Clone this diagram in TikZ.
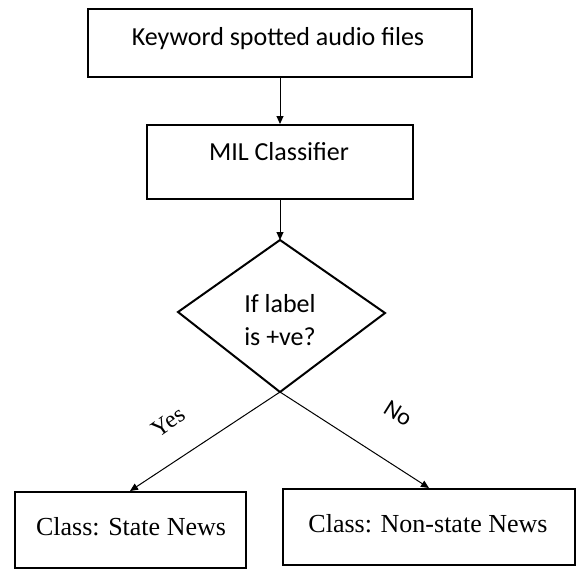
\documentclass[tikz,border=0pt]{standalone}
\usepackage{fontspec}
\setmainfont{Carlito}
\newfontfamily\serifface{Liberation Serif}
\usetikzlibrary{arrows.meta}
\begin{document}
\begin{tikzpicture}[x=1pt,y=-1pt,
  box/.style={draw=black, line width=2pt, inner sep=0pt},
  txt/.style={inner sep=0pt, font=\fontsize{26}{33}\selectfont, align=center},
  stxt/.style={inner sep=0pt, font=\serifface\fontsize{26}{33}\selectfont},
  arr/.style={draw=black, line width=1pt, -{Triangle[width=7pt,length=8pt]}}]
\useasboundingbox (0,0) rectangle (576,568);
% boxes
\node[box, minimum width=384pt, minimum height=68pt] (b1) at (280,43) {};
\node[txt] (t1) at (278,39) {Keyword spotted audio files};
\node[box, minimum width=266pt, minimum height=74pt] (b2) at (280,162) {};
\node[txt] (t2) at (279,152) {MIL Classifier};
% diamond
\coordinate (dt) at (280,240);
\coordinate (dr) at (385,313);
\coordinate (db) at (280,392);
\coordinate (dl) at (178,312);
\draw[line width=2pt, line join=miter] (dt) -- (dr) -- (db) -- (dl) -- cycle;
\node[txt] (t3) at (280,320) {If label\\is +ve?};
% bottom boxes
\node[box, minimum width=231pt, minimum height=76pt] (b3) at (130,530) {};
\node[stxt] (t4) at (131,527) {Class: State News};
\node[box, minimum width=292pt, minimum height=76pt] (b4) at (429,527) {};
\node[stxt] (t5) at (428,524) {Class: Non-state News};
% connectors
\draw[arr] (b1.south) -- (b2.north);
\draw[arr] (b2.south) -- (dt);
\draw[arr] (db) -- (b3.north);
\draw[arr] (db) -- (b4.north);
% labels
\node[inner sep=0pt, font=\serifface\fontsize{24}{24}\selectfont, rotate=35] (yes) at (168,422) {Yes};
\node[inner sep=0pt, font=\fontsize{24}{24}\selectfont, rotate=-32] (no) at (398,413) {No};
\end{tikzpicture}
\end{document}
